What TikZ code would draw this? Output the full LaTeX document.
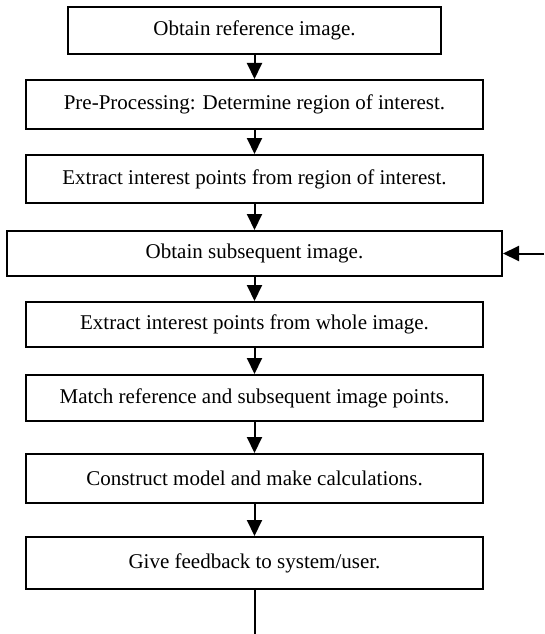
\documentclass[tikz,border=0pt]{standalone}
\usepackage{fontspec}
\setmainfont{Liberation Serif}
\usetikzlibrary{arrows.meta}
\tikzset{
  stepbox/.style={draw=black, line width=2pt, fill=white, inner sep=0pt,
    minimum width=457pt, minimum height=47pt,
    font=\fontsize{21}{25}\selectfont, align=center},
  flow/.style={line width=2pt, -{Triangle[length=16pt,width=15pt]}},
}
\begin{document}
\begin{tikzpicture}[x=1pt,y=-1pt]
  \useasboundingbox (0,0) rectangle (544,634);
  \node[stepbox, minimum width=373pt, minimum height=47pt] (b1) at (254.5,30.5) {Obtain reference image.};
  \node[stepbox, minimum height=49pt] (b2) at (254.5,104.5) {Pre-Processing: Determine region of interest.};
  \node[stepbox, minimum height=48pt] (b3) at (254.5,179) {Extract interest points from region of interest.};
  \node[stepbox, minimum width=495pt, minimum height=45pt] (b4) at (254.5,253.5) {Obtain subsequent image.};
  \node[stepbox, minimum height=45pt] (b5) at (254.5,324.5) {Extract interest points from whole image.};
  \node[stepbox, minimum height=46pt] (b6) at (254.5,398) {Match reference and subsequent image points.};
  \node[stepbox, minimum height=49pt] (b7) at (254.5,478.5) {Construct model and make calculations.};
  \node[stepbox, minimum height=52pt] (b8) at (254.5,563) {Give feedback to system/user.};
  \coordinate (loopin) at (544,253.5);
  \coordinate (out) at (254.5,634);

  \draw[flow] (b1) -- (b2);
  \draw[flow] (b2) -- (b3);
  \draw[flow] (b3) -- (b4);
  \draw[flow] (b4) -- (b5);
  \draw[flow] (b5) -- (b6);
  \draw[flow] (b6) -- (b7);
  \draw[flow] (b7) -- (b8);
  \draw[flow] (loopin) -- (b4.east);
  \draw[line width=2pt] (b8.south) -- (out);
\end{tikzpicture}
\end{document}
